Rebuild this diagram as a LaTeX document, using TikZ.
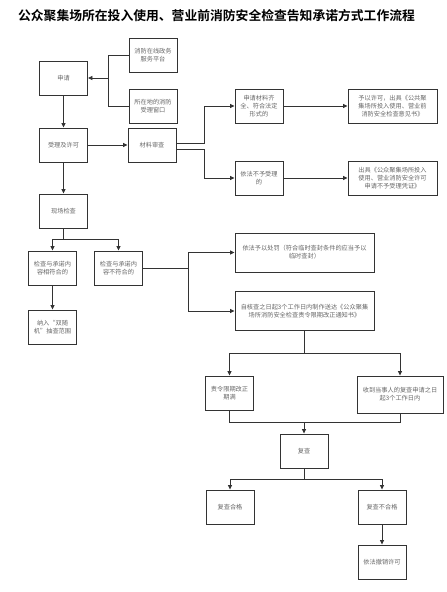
\documentclass[tikz,border=0pt]{standalone}
\usepackage{fontspec}
\setmainfont{Noto Sans CJK SC}[BoldFont={Noto Sans CJK SC Bold}]
\usetikzlibrary{arrows.meta,positioning,calc}
\definecolor{boxline}{HTML}{333333}
\definecolor{boxtext}{HTML}{666666}
\tikzset{
  blk/.style={draw=boxline, rectangle, line width=0.9pt, minimum height=34pt, minimum width=48pt, inner sep=1pt, align=center, text=boxtext, font=\fontsize{6.2}{8}\selectfont},
  wblk/.style={blk, minimum width=89pt},
  lblk/.style={blk, minimum width=139pt, minimum height=39pt},
  lnk/.style={draw=boxline, line width=0.8pt},
  arr/.style={lnk, -{Triangle[length=4.5pt, width=4pt]}},
}

\begin{document}
\begin{tikzpicture}[x=1pt, y=-1pt]
\useasboundingbox (0,0) rectangle (447,592);

% Title
\node[font=\fontsize{12.8}{15}\selectfont\bfseries] (title) at (216.5,16) {公众聚集场所在投入使用、营业前消防安全检查告知承诺方式工作流程};

% Application
\node[blk] (apply) at (63.5,78) {申请};
\node[blk] (online) at (153,55) {消防在线政务\\服务平台};
\node[blk] (window) at (153,106) {所在地的消防\\受理窗口};
\node[blk] (accept) at (63.5,145) {受理及许可};
\node[blk] (review) at (152,145) {材料审查};

% Material review
\node[blk] (complete) at (259,106) {申请材料齐\\全、符合法定\\形式的};
\node[wblk] (permit) at (392.5,106) {予以许可，出具《公共聚\\集场所投入使用、营业前\\消防安全检查意见书》};
\node[blk] (reject) at (259,178) {依法不予受理\\的};
\node[wblk] (voucher) at (392.5,178) {出具《公众聚集场所投入\\使用、营业消防安全许可\\申请不予受理凭证》};

% On-site inspection
\node[blk] (inspect) at (63.5,211) {现场检查};
\node[blk] (match) at (52.5,268) {检查与承诺内\\容相符合的};
\node[blk] (mismatch) at (118.5,268) {检查与承诺内\\容不符合的};
\node[blk] (random) at (52.5,327) {纳入“双随\\机”抽查范围};

% Penalty and correction
\node[lblk] (punish) at (304.5,252.5) {依法予以处罚（符合临时查封条件的应当予以\\临时查封）};
\node[lblk] (notice) at (304.5,311) {自核查之日起3个工作日内制作送达《公众聚集\\场所消防安全检查责令限期改正通知书》};
\node[blk] (due) at (229.5,393) {责令限期改正\\期满};
\node[blk, minimum width=86pt, minimum height=37pt] (request) at (400,394.5) {收到当事人的复查申请之日\\起3个工作日内};

% Re-inspection
\node[blk] (recheck) at (304,451) {复查};
\node[blk] (pass) at (230,507) {复查合格};
\node[blk] (fail) at (382,507) {复查不合格};
\node[blk] (revoke) at (382,562) {依法撤销许可};

% Junctions
\coordinate (j1) at (108,78);
\coordinate (j2) at (204,106);
\coordinate (j3) at (204,178);
\coordinate (j4) at (63.5,239);
\coordinate (j5) at (188,268);
\coordinate (j6) at (304.5,353);
\coordinate (j7) at (304,422);
\coordinate (j8) at (304,479);

% Connectors
\draw[lnk] (online.west) -| (j1);
\draw[lnk] (window.west) -| (j1);
\draw[arr] (j1) -- (apply.east);
\draw[arr] (apply.south) -- (accept.north);
\draw[arr] (accept.east) -- (review.west);
\draw[arr] ([yshift=2pt]review.east) -| (j2) -- (complete.west);
\draw[arr] ([yshift=-4pt]review.east) -| (j3) -- (reject.west);
\draw[arr] (complete.east) -- (permit.west);
\draw[arr] (reject.east) -- (voucher.west);
\draw[arr] (accept.south) -- (inspect.north);
\draw[lnk] (inspect.south) -- (j4);
\draw[arr] (j4) -| (match.north);
\draw[arr] (j4) -| (mismatch.north);
\draw[arr] (match.south) -- (random.north);
\draw[lnk] (mismatch.east) -- (j5);
\draw[arr] (j5) |- (punish.west);
\draw[arr] (j5) |- (notice.west);
\draw[lnk] (notice.south) -- (j6);
\draw[arr] (j6) -| (due.north);
\draw[arr] (j6) -| (request.north);
\draw[lnk] (due.south) |- (j7);
\draw[lnk] (request.south) |- (j7);
\draw[arr] (j7) -- (recheck.north);
\draw[lnk] (recheck.south) -- (j8);
\draw[arr] (j8) -| (pass.north);
\draw[arr] (j8) -| (fail.north);
\draw[arr] (fail.south) -- (revoke.north);

\end{tikzpicture}
\end{document}
